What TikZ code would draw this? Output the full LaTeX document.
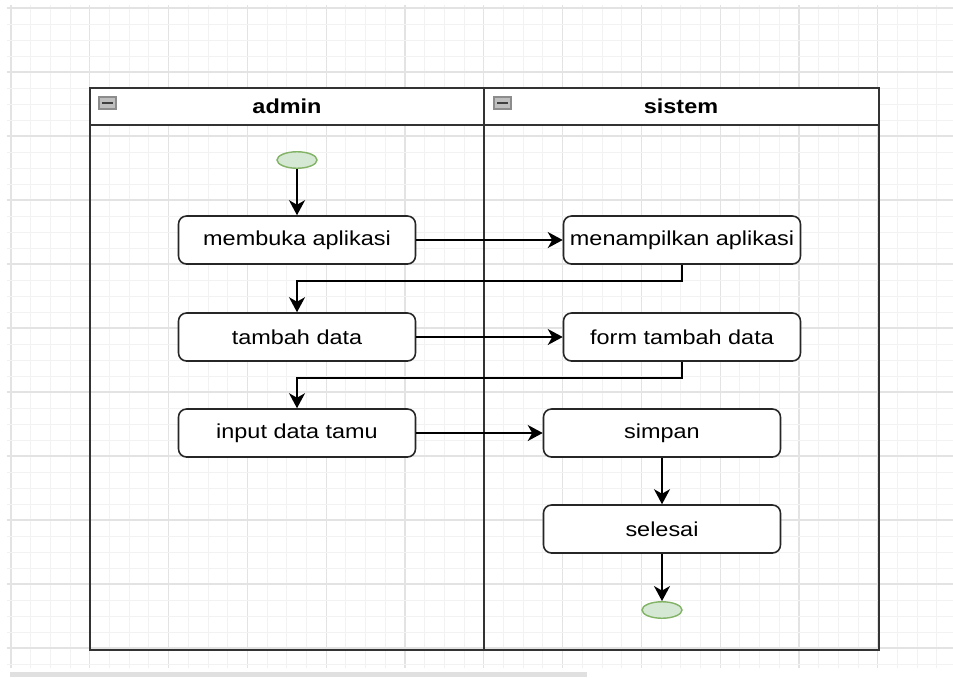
\documentclass[tikz,border=0pt]{standalone}
\usepackage{fontspec}
\setmainfont{Liberation Sans}[FakeStretch=1.16]
\usetikzlibrary{arrows.meta,shapes.geometric}
\definecolor{dotfill}{HTML}{D5E8D4}
\definecolor{dotline}{HTML}{82B366}

\begin{document}
\begin{tikzpicture}[x=0.02cm,y=-0.02cm,
            font=\fontsize{11.5pt}{14pt}\selectfont,
            gridminor/.style={draw=black!5,line width=0.5pt},
            gridmajor/.style={draw=black!11,line width=0.6pt},
            pool/.style={draw=black!80,line width=1.1pt},
            act/.style={draw=black!85,line width=0.9pt,rounded corners=0.16cm,fill=white,minimum width=4.74cm,minimum height=0.96cm,inner sep=0pt},
            dot/.style={ellipse,draw=dotline,fill=dotfill,line width=0.8pt,minimum width=0.8cm,minimum height=0.33cm,inner sep=0pt},
            flow/.style={draw=black,line width=1pt,-{Stealth[length=3mm,width=3.2mm,inset=0.9mm]}},
            collapse/.style={draw=black!45,fill=black!25,line width=0.6pt}]
            \useasboundingbox (0,0) rectangle (953,677);
            \foreach \i in {0,...,47} {
                \pgfmathsetmacro{\gx}{11+19.7*\i}
                \pgfmathtruncatemacro{\gm}{mod(\i,4)}
                \ifnum\gm=0 \draw[gridmajor] (\gx,5) -- (\gx,668); \else \draw[gridminor] (\gx,5) -- (\gx,668); \fi
            }
            \foreach \j in {0,...,41} {
                \pgfmathsetmacro{\gy}{8+16*\j}
                \pgfmathtruncatemacro{\gm}{mod(\j,4)}
                \ifnum\gm=0 \draw[gridmajor] (7,\gy) -- (953,\gy); \else \draw[gridminor] (7,\gy) -- (953,\gy); \fi
            }
            \fill[black!12] (10,672) rectangle (587,677);

            \fill[white] (90,88) rectangle (879,125);
            \draw[pool] (90,88) rectangle (879,650);
            \draw[pool] (90,125) -- (879,125);
            \draw[pool] (484,88) -- (484,650);
            \draw[collapse] (99,97) rectangle (116,109);
            \draw[black!75,line width=1pt] (102,103) -- (113,103);
            \draw[collapse] (494,97) rectangle (511,109);
            \draw[black!75,line width=1pt] (497,103) -- (508,103);
            \node[font=\fontsize{11.5pt}{14pt}\selectfont\bfseries] (admin) at (287,106) {admin};
            \node[font=\fontsize{11.5pt}{14pt}\selectfont\bfseries] (sistem) at (681,106) {sistem};

            \node[dot] (start) at (297,160) {};
            \node[act] (buka) at (297,240) {membuka aplikasi};
            \node[act] (tampil) at (682,240) {menampilkan aplikasi};
            \node[act] (tambah) at (297,337) {tambah data};
            \node[act] (form) at (682,337) {form tambah data};
            \node[act] (input) at (297,433) {input data tamu};
            \node[act] (simpan) at (662,433) {simpan};
            \node[act] (selesai) at (662,529) {selesai};
            \node[dot] (stop) at (662,610) {};

            \draw[flow] (start) -- (buka);
            \draw[flow] (buka) -- (tampil);
            \draw[flow] (tampil.south) -- ++(0,16) -| (tambah.north);
            \draw[flow] (tambah) -- (form);
            \draw[flow] (form.south) -- ++(0,16) -| (input.north);
            \draw[flow] (input) -- (simpan);
            \draw[flow] (simpan) -- (selesai);
            \draw[flow] (selesai) -- (stop);
        \end{tikzpicture}
\end{document}
